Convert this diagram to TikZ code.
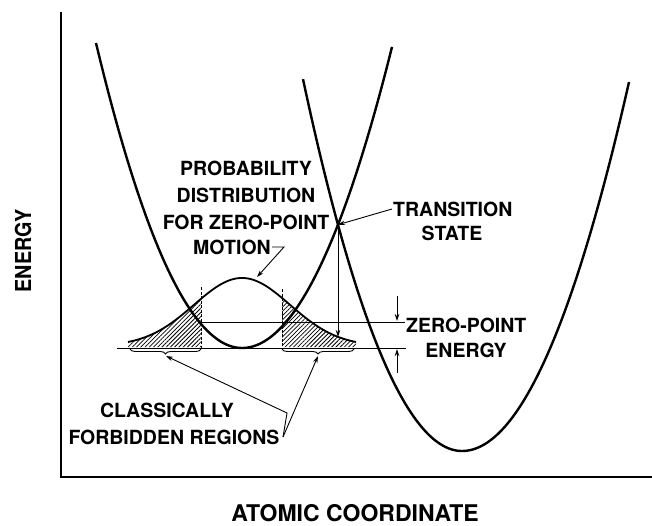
\documentclass[tikz,border=0pt]{standalone}
\usepackage{fontspec}
\setmainfont{TeX Gyre Heros}
\usetikzlibrary{arrows.meta,decorations.pathreplacing,patterns.meta}

\begin{document}
\begin{tikzpicture}[x=1pt,y=-1pt,font=\fontsize{19.5}{19.5}\selectfont\bfseries,
  declare function={bell(\t)=346-68*exp(-((\t-242)/67.8)^2);},
  well/.style={line width=2.4pt},
  guide/.style={line width=0.9pt},
  hatch/.style={pattern={Lines[angle=45,distance=3pt,line width=0.75pt]}},
  pointer/.style={guide,-{Stealth[length=7pt,width=4.5pt]}},
  lbl/.style={inner sep=1pt}]
  \useasboundingbox (0,0) rectangle (652,526);
  % axes
  \draw[line width=1.4pt] (61,12) -- (61,477) -- (652,477);
  \node[rotate=90,font=\fontsize{22}{22}\selectfont\bfseries] (ylab) at (23,251) {\scalebox{0.9}[1]{ENERGY}};
  \node[font=\fontsize{23}{23}\selectfont\bfseries] (xlab) at (355,513) {ATOMIC COORDINATE};
  % hatched tails
  \fill[hatch] (201,347) -- plot[domain=201:128,samples=40] (\x,{bell(\x)}) -- (128,347) -- cycle;
  \fill[hatch] (282,347) -- plot[domain=282:356,samples=40] (\x,{bell(\x)}) -- (356,347) -- cycle;
  % wells
  \draw[well] plot[domain=96:242,samples=60] (\x,{348-(0.11962*(\x-242))^2}) -- plot[domain=242:392,samples=60] (\x,{348-(0.11567*(\x-242))^2});
  \draw[well] plot[domain=303:462,samples=60] (\x,{451-(0.12128*(\x-462))^2}) -- plot[domain=462:629,samples=60] (\x,{451-(0.11502*(\x-462))^2});
  % probability distribution
  \draw[line width=1.8pt] plot[domain=128:356,samples=120] (\x,{bell(\x)});
  \draw[guide,dash pattern=on 3pt off 1.5pt] (201,287) -- (201,348);
  \draw[guide,dash pattern=on 3pt off 1.5pt] (282,289) -- (282,348);
  % levels
  \coordinate (zl) at (201,322);
  \coordinate (bl) at (117,348);
  \coordinate (ts) at (338,224.7);
  \coordinate (tsfoot) at (338,337);
  \coordinate (peak) at (257,277);
  \coordinate (lbt) at (166,356);
  \coordinate (rbt) at (318,356);
  \coordinate (vtip) at (283,437);
  \coordinate (vtop) at (287,413);
  \node[lbl,anchor=west] (zp) at (405,325) {ZERO-POINT};
  \node[lbl] (zpe) at (466,350) {ENERGY};
  \draw[guide] (zl) -- (zl -| zp.west);
  \draw[guide] (bl) -- (406,348);
  \draw[pointer] (397,296) -- (397,321);
  \draw[pointer] (397,373) -- (397,349);
  % braces
  \draw[guide,decorate,decoration={brace,amplitude=5pt,mirror}] (130,349) -- (201,349);
  \draw[guide,decorate,decoration={brace,amplitude=5pt,mirror}] (282,349) -- (354,349);
  % labels
  \node[lbl,align=center,font=\fontsize{19.5}{27}\selectfont\bfseries] (prob) at (246,195) {PROBABILITY\\DISTRIBUTION\\FOR ZERO-POINT};
  \node[lbl] (motion) at (232,247) {MOTION};
  \draw[pointer] (motion.east) -- ++(12,0) -- (peak);
  \node[lbl,anchor=west] (trans) at (392,209) {TRANSITION};
  \node[lbl] (state) at (452,233) {STATE};
  \draw[pointer] (trans.west) -- (ts);
  \draw[pointer] (ts) -- (tsfoot);
  \node[lbl] (cls) at (167,410) {CLASSICALLY};
  \node[lbl] (forb) at (174,437) {FORBIDDEN REGIONS};
  \draw[pointer] (vtip) -- (vtop) -- (lbt);
  \draw[pointer] (vtip) -- (rbt);
\end{tikzpicture}
\end{document}
